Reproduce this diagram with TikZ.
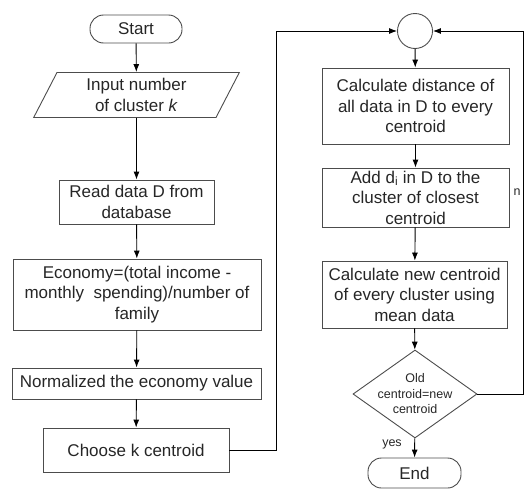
\documentclass[tikz,border=0pt]{standalone}
\usepackage{fontspec}
\setmainfont{Liberation Sans}
\usetikzlibrary{arrows.meta,positioning,shapes.geometric}

\begin{document}
\begin{tikzpicture}[
    x=1pt, y=-1pt,
    font=\fontsize{17}{20.5}\selectfont,
    outline/.style={draw=black!70, line width=0.9pt, text=black!85, align=center, inner sep=0},
    process/.style 2 args={outline, rectangle, minimum width=#1, minimum height=#2},
    terminal/.style 2 args={outline, rectangle, rounded corners=13.5pt, minimum width=#1, minimum height=#2},
    inout/.style={outline, trapezium, trapezium left angle=66, trapezium right angle=114,
        trapezium stretches=true, minimum width=206, minimum height=45},
    decision/.style={outline, diamond, minimum width=124, minimum height=88},
    connector/.style={outline, circle, minimum size=35},
    small/.style={font=\fontsize{12.5}{15.5}\selectfont, text=black!85, align=center, inner sep=0},
    flow/.style={draw=black, line width=0.9pt, -{Latex[length=8pt,width=6pt]}}]

\useasboundingbox (0,0) rectangle (524,493);

\node (START)   [terminal={92}{28}] at (136,29) {Start};
\node (INPUT)   [inout] at (136.5,95) {Input number\\of cluster \textit{k}};
\node (READ)    [process={155}{44}] at (136.5,202) {Read data D from\\database};
\node (ECONOMY) [process={248}{71}] at (137,294.5) {Economy=(total income -\\monthly\ \ spending)/number of\\family};
\node (NORM)    [process={249}{31}] at (136.5,383.5) {Normalized the economy value};
\node (CHOOSE)  [process={186}{44}] at (136,450) {Choose k centroid};

\node (HUB)     [connector] at (415,31) {};
\node (DIST)    [process={187}{76}] at (415.5,106) {Calculate distance of\\all data in D to every\\centroid};
\node (ADD)     [process={187}{59}] at (415.5,197.5) {Add d$_\mathrm{i}$ in D to the\\cluster of closest\\centroid};
\node (NEWC)    [process={185}{67}] at (414.5,294.5) {Calculate new centroid\\of every cluster using\\mean data};
\node (CHECK)   [decision] at (415,394) {};
\node (CHECKTXT)[small] at (CHECK.center) {Old\\centroid=new\\centroid};
\node (END)     [terminal={93}{30}] at (414.5,473) {End};

\node (YES) [small] at (392,444) {yes};
\node (NO)  [small] at (517,192) {n};

\coordinate (LEFTRAIL) at (276,31);
\coordinate (RIGHTRAIL) at (523,31);

\draw[flow] (START) -- (INPUT);
\draw[flow] (INPUT) -- (READ);
\draw[flow] (READ) -- (ECONOMY);
\draw[flow] (ECONOMY) -- (NORM);
\draw[flow] (NORM) -- (CHOOSE);
\draw[flow] (CHOOSE.east) -| (LEFTRAIL) -- (HUB.west);
\draw[flow] (HUB) -- (DIST);
\draw[flow] (DIST) -- (ADD);
\draw[flow] (ADD) -- (NEWC);
\draw[flow] (NEWC) -- (CHECK);
\draw[flow] (CHECK.east) -| (RIGHTRAIL) -- (HUB.east);
\draw[flow] (CHECK) -- (END);

\end{tikzpicture}
\end{document}
